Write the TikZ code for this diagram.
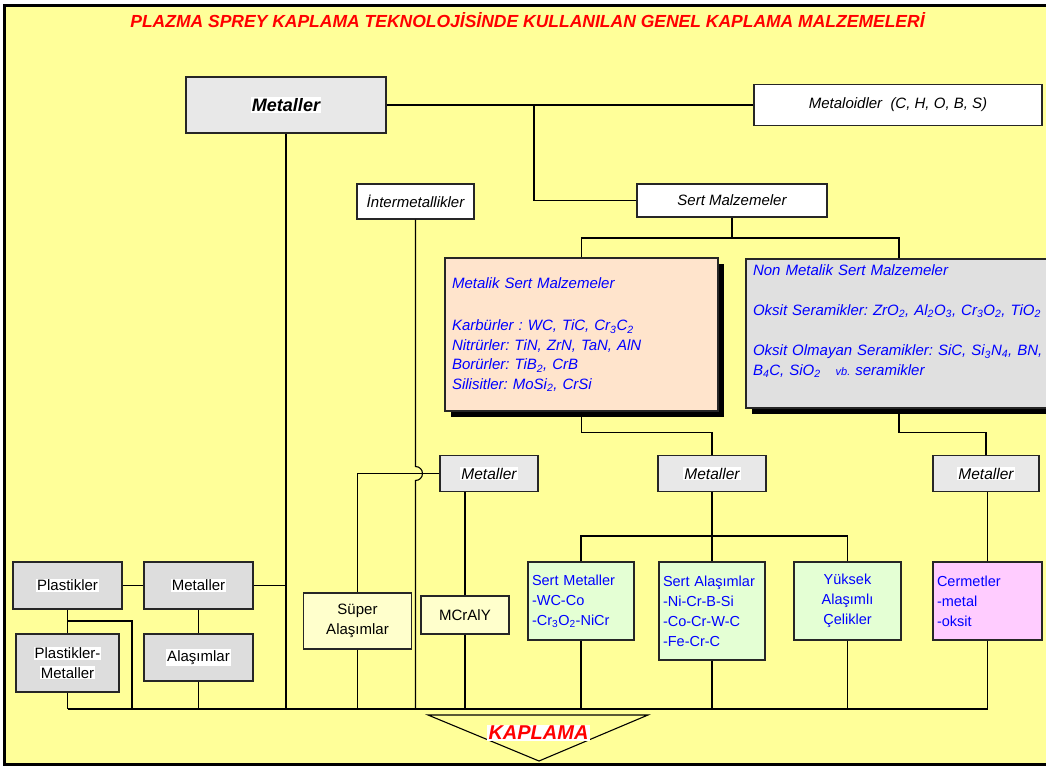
\documentclass[tikz,border=0pt]{standalone}
\usepackage{fontspec}
\setmainfont{Liberation Sans}
\usetikzlibrary{shadows}
\definecolor{bgyellow}{HTML}{FFFF99}
\definecolor{greyA}{HTML}{E8E8E8}
\definecolor{greyB}{HTML}{DDDDDD}
\definecolor{greyC}{HTML}{E0E0E0}
\definecolor{peach}{HTML}{FFE4CC}
\definecolor{mint}{HTML}{E4FFD4}
\definecolor{lilac}{HTML}{FFCCFF}
\definecolor{paleyellow}{HTML}{FFFFCC}
\newcommand{\wbg}[1]{{\setlength{\fboxsep}{1pt}\colorbox{white}{#1}}}
\frenchspacing

\begin{document}
\begin{tikzpicture}[x=1pt,y=-1pt,line width=1.1pt,
		matbox/.style={draw=black!85,inner sep=0pt,font=\fontsize{15}{19.5}\selectfont},
		grbox/.style={matbox,fill=greyA,font=\fontsize{15.5}{20}\selectfont\itshape},
		whbox/.style={matbox,fill=white,font=\fontsize{15}{20}\selectfont\itshape},
		ltbox/.style={matbox,fill=greyB,align=center},
		hardbox/.style={matbox,align=left,inner xsep=7pt,text=blue,font=\fontsize{15}{19.5}\selectfont\itshape,
			drop shadow={shadow xshift=6pt,shadow yshift=-6pt,fill=black,opacity=1}},
		gnbox/.style={matbox,fill=mint,text=blue,align=left,inner xsep=4pt,font=\fontsize{14.5}{20}\selectfont}]
	\useasboundingbox (0,0) rectangle (1046,767);
	\draw[line width=3pt,fill=bgyellow] (4,6) rectangle (1060,764);
	\node[text=red,font=\fontsize{17.5}{20}\selectfont\bfseries\itshape] (title) at (527.5,20)
		{PLAZMA SPREY KAPLAMA TEKNOLOJİSİNDE KULLANILAN GENEL KAPLAMA MALZEMELERİ};
	
	\node[grbox,minimum width=200pt,minimum height=56pt,font=\fontsize{18}{20}\selectfont\bfseries\itshape] (mtop) at (286,105) {\wbg{Metaller}};
	\node[whbox,minimum width=288pt,minimum height=41pt] (mloid) at (898,105) {Metaloidler\ \ (C, H, O, B, S)};
	\node[whbox,minimum width=190pt,minimum height=33pt] (sert) at (732,200.5) {Sert Malzemeler};
	\node[whbox,minimum width=117pt,minimum height=35pt] (inter) at (415.5,201.5) {İntermetallikler};
	\node[hardbox,fill=peach,minimum width=273pt,minimum height=153pt,text width=259pt] (metalik) at (581.5,334.5)
		{Metalik Sert Malzemeler\\[23pt]
		Karbürler : WC, TiC, Cr\textsubscript{3}C\textsubscript{2}\\
		Nitrürler: TiN, ZrN, TaN, AlN\\
		Borürler: TiB\textsubscript{2}, CrB\\
		Silisitler: MoSi\textsubscript{2}, CrSi};
	\node[hardbox,fill=greyC,minimum width=306pt,minimum height=149pt,text width=292pt] (nonmet) at (899,333.5)
		{Non Metalik Sert Malzemeler\\[20.5pt]
		Oksit Seramikler: ZrO\textsubscript{2}, Al\textsubscript{2}O\textsubscript{3}, Cr\textsubscript{3}O\textsubscript{2}, TiO\textsubscript{2}\\[21pt]
		Oksit Olmayan Seramikler: SiC, Si\textsubscript{3}N\textsubscript{4}, BN,\\
		B\textsubscript{4}C, SiO\textsubscript{2}\quad{\fontsize{11}{12}\selectfont vb.} seramikler\\[8pt]\mbox{}};
	\foreach \n/\x/\w in {mL/489/98,mM/712/108,mR/986/106}
		\node[grbox,minimum width=\w pt,minimum height=36pt] (\n) at (\x,473.5) {\wbg{Metaller}};
	
	\node[gnbox,minimum width=106pt,minimum height=78pt,text width=98pt] (sm) at (581,601)
		{Sert Metaller\\-WC-Co\\-Cr\textsubscript{3}O\textsubscript{2}-NiCr};
	\node[gnbox,minimum width=106pt,minimum height=98pt,text width=98pt] (sa) at (712,611)
		{Sert Alaşımlar\\-Ni-Cr-B-Si\\-Co-Cr-W-C\\-Fe-Cr-C};
	\node[gnbox,align=center,minimum width=107pt,minimum height=78pt] (yuk) at (847.5,601) {Yüksek\\Alaşımlı\\Çelikler};
	\node[gnbox,fill=lilac,minimum width=109pt,minimum height=78pt,text width=101pt] (cer) at (987.5,601)
		{Cermetler\\-metal\\-oksit};
	
	\node[ltbox,minimum width=109pt,minimum height=47pt] (pl) at (67.5,585.5) {\wbg{Plastikler}};
	\node[ltbox,minimum width=109pt,minimum height=47pt] (mB) at (198.5,585.5) {\wbg{Metaller}};
	\node[ltbox,minimum width=103pt,minimum height=58pt] (plm) at (67.5,663) {\wbg{Plastikler-}\\\wbg{Metaller}};
	\node[ltbox,minimum width=109pt,minimum height=47pt] (ala) at (198.5,657.5) {\wbg{Alaşımlar}};
	\node[ltbox,fill=paleyellow,minimum width=108pt,minimum height=56pt] (super) at (357.5,621) {Süper\\Alaşımlar};
	\node[ltbox,fill=paleyellow,minimum width=88pt,minimum height=38pt] (mcraly) at (465,615) {MCrAlY};
	
	\coordinate (j1) at (534,105);
	\coordinate (j2) at (732,238);
	\coordinate (j3) at (712,536);
	\coordinate (busL) at (67.5,709);
	\coordinate (busR) at (987.5,709);
	\coordinate (pj) at (67.5,621);
	\coordinate (pk) at (132,709);
	
	\draw (mtop) -- (mloid);
	\draw (j1) |- (sert);
	\draw (sert) -- (j2);
	\draw (metalik.north) |- (j2) -| (nonmet.north);
	\draw (metalik.south) -- ++(0,21) -| (mM.north);
	\draw (nonmet.south) -- ++(0,24) -| (mR.north);
	\draw (mM) -- (sa);
	\draw (sm.north) |- (j3) -| (yuk.north);
	\draw (cer.north) -- (cer.north |- mR.south);
	\draw (mcraly.north) -- (mcraly.north |- mL.south);
	\draw (mL.west) -| (super.north);
	\draw (inter.south) -- ([yshift=7pt]inter.south |- mL.west) arc[start angle=90,end angle=-90,radius=7pt] -- (inter.south |- busL);
	\draw (mtop) -- (mtop.south |- busL);
	\draw (mB) -- (mB.east -| mtop.south);
	\draw (pl) -- (mB);
	\draw (pl) -- (plm);
	\draw (mB) -- (ala);
	\draw (pj) -| (pk);
	\draw (busL) -- (busR);
	\foreach \n in {plm,ala,super,mcraly,sm,sa,yuk,cer}
		\draw (\n.south) -- (\n.south |- busL);
	
	\draw (428,715) -- (648,715) -- (539,761) -- cycle;
	\node[text=red,fill=white,inner sep=1.5pt,font=\fontsize{20}{22}\selectfont\bfseries\itshape] (kaplama) at (538.5,733) {KAPLAMA};
\end{tikzpicture}
\end{document}
